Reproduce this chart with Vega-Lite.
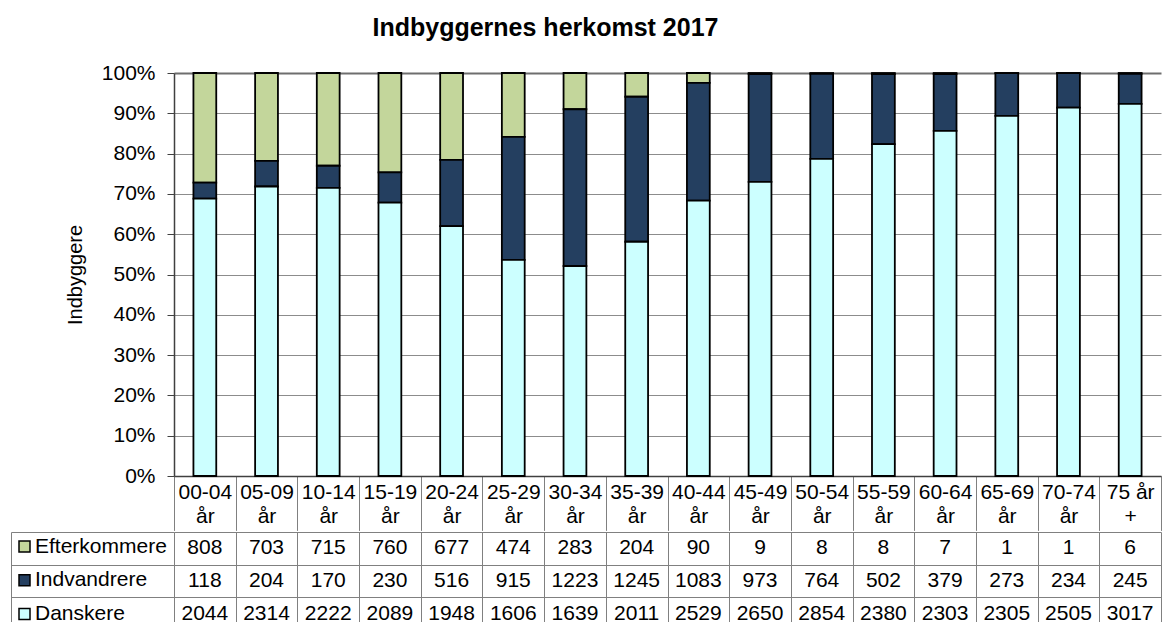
{
  "$schema": "https://vega.github.io/schema/vega-lite/v6.json",
  "padding": {"left": 10, "top": 16, "right": 3, "bottom": 0},
  "config": {"font": "Liberation Sans", "view": {"stroke": null}},
  "title": {"text": "Indbyggernes herkomst 2017", "font": "Liberation Sans", "fontSize": 25, "fontWeight": "bold", "color": "black", "anchor": "start", "dx": 362, "offset": 21},
  "data": {"values": [
    {"age": "00-04 år", "group": "Efterkommere", "n": 808},
    {"age": "00-04 år", "group": "Indvandrere", "n": 118},
    {"age": "00-04 år", "group": "Danskere", "n": 2044},
    {"age": "05-09 år", "group": "Efterkommere", "n": 703},
    {"age": "05-09 år", "group": "Indvandrere", "n": 204},
    {"age": "05-09 år", "group": "Danskere", "n": 2314},
    {"age": "10-14 år", "group": "Efterkommere", "n": 715},
    {"age": "10-14 år", "group": "Indvandrere", "n": 170},
    {"age": "10-14 år", "group": "Danskere", "n": 2222},
    {"age": "15-19 år", "group": "Efterkommere", "n": 760},
    {"age": "15-19 år", "group": "Indvandrere", "n": 230},
    {"age": "15-19 år", "group": "Danskere", "n": 2089},
    {"age": "20-24 år", "group": "Efterkommere", "n": 677},
    {"age": "20-24 år", "group": "Indvandrere", "n": 516},
    {"age": "20-24 år", "group": "Danskere", "n": 1948},
    {"age": "25-29 år", "group": "Efterkommere", "n": 474},
    {"age": "25-29 år", "group": "Indvandrere", "n": 915},
    {"age": "25-29 år", "group": "Danskere", "n": 1606},
    {"age": "30-34 år", "group": "Efterkommere", "n": 283},
    {"age": "30-34 år", "group": "Indvandrere", "n": 1223},
    {"age": "30-34 år", "group": "Danskere", "n": 1639},
    {"age": "35-39 år", "group": "Efterkommere", "n": 204},
    {"age": "35-39 år", "group": "Indvandrere", "n": 1245},
    {"age": "35-39 år", "group": "Danskere", "n": 2011},
    {"age": "40-44 år", "group": "Efterkommere", "n": 90},
    {"age": "40-44 år", "group": "Indvandrere", "n": 1083},
    {"age": "40-44 år", "group": "Danskere", "n": 2529},
    {"age": "45-49 år", "group": "Efterkommere", "n": 9},
    {"age": "45-49 år", "group": "Indvandrere", "n": 973},
    {"age": "45-49 år", "group": "Danskere", "n": 2650},
    {"age": "50-54 år", "group": "Efterkommere", "n": 8},
    {"age": "50-54 år", "group": "Indvandrere", "n": 764},
    {"age": "50-54 år", "group": "Danskere", "n": 2854},
    {"age": "55-59 år", "group": "Efterkommere", "n": 8},
    {"age": "55-59 år", "group": "Indvandrere", "n": 502},
    {"age": "55-59 år", "group": "Danskere", "n": 2380},
    {"age": "60-64 år", "group": "Efterkommere", "n": 7},
    {"age": "60-64 år", "group": "Indvandrere", "n": 379},
    {"age": "60-64 år", "group": "Danskere", "n": 2303},
    {"age": "65-69 år", "group": "Efterkommere", "n": 1},
    {"age": "65-69 år", "group": "Indvandrere", "n": 273},
    {"age": "65-69 år", "group": "Danskere", "n": 2305},
    {"age": "70-74 år", "group": "Efterkommere", "n": 1},
    {"age": "70-74 år", "group": "Indvandrere", "n": 234},
    {"age": "70-74 år", "group": "Danskere", "n": 2505},
    {"age": "75 år +", "group": "Efterkommere", "n": 6},
    {"age": "75 år +", "group": "Indvandrere", "n": 245},
    {"age": "75 år +", "group": "Danskere", "n": 3017}
  ]},
  "spacing": 0,
  "vconcat": [
    {
      "width": 987,
      "height": 403,
      "transform": [{"calculate": "indexof(['Danskere','Indvandrere','Efterkommere'], datum.group)", "as": "stackOrder"}],
      "mark": {"type": "bar", "width": {"band": 0.37}, "stroke": "black", "strokeWidth": 1.8},
      "encoding": {
        "x": {
          "field": "age", "type": "nominal", "sort": null,
          "scale": {"paddingInner": 0, "paddingOuter": 0},
          "axis": {
            "title": null, "labelAngle": 0, "labelFontSize": 21, "labelColor": "black",
            "labelExpr": "isValid(datum.value) ? (datum.value == '75 år +' ? ['75 år', '+'] : split(datum.value, ' ')) : ''",
            "labelLineHeight": 23.7, "labelPadding": -49, "labelOverlap": false,
            "tickBand": "extent", "tickSize": 54.4, "tickColor": "#808080", "tickWidth": 1,
            "domainColor": "#404040", "domainWidth": 1.5, "grid": false
          }
        },
        "y": {
          "field": "n", "type": "quantitative", "stack": "normalize",
          "scale": {"domain": [0, 1]},
          "axis": {
            "title": "Indbyggere", "titleFontSize": 20, "titleFontWeight": "normal", "titleColor": "black", "titlePadding": 16,
            "format": ".0%", "values": [0, 0.1, 0.2, 0.3, 0.4, 0.5, 0.6, 0.7, 0.8, 0.9, 1],
            "labelFontSize": 21, "labelColor": "black", "labelPadding": 12,
            "tickSize": 7, "tickColor": "#404040", "domainColor": "#404040", "domainWidth": 1.5,
            "grid": true,
            "gridColor": {"condition": {"test": "datum.value == 1", "value": "#6e6e6e"}, "value": "#8c8c8c"},
            "gridWidth": {"condition": {"test": "datum.value == 1", "value": 2}, "value": 1}
          }
        },
        "color": {
          "field": "group", "type": "nominal",
          "scale": {"domain": ["Efterkommere", "Indvandrere", "Danskere"], "range": ["#C3D69B", "#243F60", "#CCFFFF"]},
          "legend": {
            "orient": "none", "legendX": -160, "legendY": 463, "title": null, "padding": 0,
            "symbolType": "square", "symbolSize": 121, "symbolStrokeColor": "black", "symbolStrokeWidth": 1.5, "symbolOpacity": 1,
            "labelFontSize": 21, "labelColor": "black", "labelOffset": 0, "rowPadding": 11.7
          }
        },
        "order": {"field": "stackOrder", "type": "quantitative"}
      }
    },
    {
      "width": 987,
      "height": 98,
      "layer": [
        {
          "mark": {"type": "text", "fontSize": 21, "color": "black", "align": "center", "baseline": "middle"},
          "encoding": {
            "x": {
              "field": "age", "type": "nominal", "sort": null,
              "scale": {"paddingInner": 0, "paddingOuter": 0},
              "axis": {"title": null, "labels": false, "ticks": false, "domain": false, "grid": true, "tickBand": "extent", "gridColor": "#808080", "gridWidth": 1}
            },
            "y": {
              "field": "group", "type": "nominal", "sort": ["Efterkommere", "Indvandrere", "Danskere"],
              "scale": {"paddingInner": 0, "paddingOuter": 0},
              "axis": {"title": null, "labels": false, "domain": false, "grid": true, "tickBand": "extent", "gridColor": "#808080", "ticks": true, "tickSize": 163, "tickColor": "#808080", "tickWidth": 1}
            },
            "text": {"field": "n", "type": "quantitative"}
          }
        },
        {
          "mark": {"type": "text", "opacity": 0},
          "encoding": {
            "y": {
              "field": "group", "type": "nominal", "sort": ["Efterkommere", "Indvandrere", "Danskere"],
              "axis": {"orient": "left", "offset": 163, "title": null, "labels": false, "ticks": false, "grid": false, "domain": true, "domainColor": "#808080", "domainWidth": 1}
            },
            "text": {"value": ""}
          }
        }
      ],
      "resolve": {"axis": {"y": "independent"}}
    }
  ]
}
